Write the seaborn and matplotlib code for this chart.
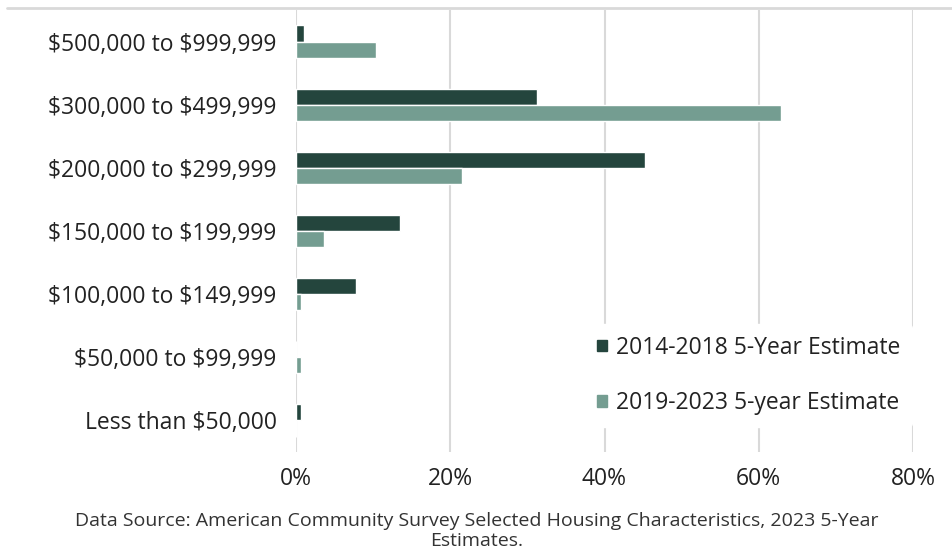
import matplotlib
matplotlib.use("Agg")
import matplotlib.pyplot as plt
from matplotlib.lines import Line2D
from matplotlib.ticker import FuncFormatter
import seaborn as sns
import pandas as pd

# values (percent of owner-occupied units)
categories = ["$500,000 to $999,999", "$300,000 to $499,999", "$200,000 to $299,999",
              "$150,000 to $199,999", "$100,000 to $149,999", "$50,000 to $99,999",
              "Less than $50,000"]
series_names = ["2014-2018 5-Year Estimate", "2019-2023 5-year Estimate"]
est_2018 = [1.1, 31.3, 45.3, 13.5, 7.8, 0.0, 0.7]
est_2023 = [10.4, 62.9, 21.5, 3.6, 0.65, 0.7, 0.0]
colors = ["#24453d", "#749d91"]

df = pd.DataFrame({
    "value": est_2018 + est_2023,
    "category": categories * 2,
    "series": [series_names[0]] * len(categories) + [series_names[1]] * len(categories),
})

sns.set_theme(style="white")
plt.rcParams["font.family"] = ["Open Sans", "DejaVu Sans"]
plt.rcParams["text.parse_math"] = False  # dollar signs are literal

fig = plt.figure(figsize=(9.53, 5.52), dpi=100)
ax = fig.add_axes([296 / 953, 1 - 452 / 552, 617 / 953, 442 / 552])

sns.barplot(data=df, x="value", y="category", hue="series", order=categories,
            hue_order=series_names, palette=colors, width=0.51, orient="h",
            saturation=1, ax=ax, zorder=2)

ax.set_xlim(0, 80)
ax.set_ylim(6.5, -0.5)
ax.set_xticks([0, 20, 40, 60, 80])
ax.xaxis.set_major_formatter(FuncFormatter(lambda v, p: f"{v:.0f}%"))
ax.grid(axis="x", color="#d9d9d9", linewidth=1.5, zorder=0)
ax.set_axisbelow(True)
for s in ax.spines.values():
    s.set_visible(False)
ax.set_xlabel("")
ax.set_ylabel("")
ax.tick_params(axis="both", length=0, labelsize=16.5, colors="#222222")
ax.tick_params(axis="x", pad=11)
ax.tick_params(axis="y", pad=14)

handles = [plt.Rectangle((0, 0), 1, 1, color=c) for c in colors]
leg = ax.legend(handles, series_names, loc="upper left", bbox_to_anchor=(0.47, 0.289),
                frameon=True, facecolor="white", edgecolor="white", framealpha=1,
                fontsize=16.5, handlelength=0.4, handleheight=0.4, handletextpad=0.4,
                labelspacing=1.38, borderaxespad=0, borderpad=0.5)
for t in leg.get_texts():
    t.set_color("#222222")

fig.add_artist(Line2D([0.007, 1], [1 - 8 / 552, 1 - 8 / 552], color="#d9d9d9", linewidth=2))

fig.text(0.5, 1 - 531 / 552,
         "Data Source: American Community Survey Selected Housing Characteristics, 2023 5-Year\nEstimates.",
         ha="center", va="center", fontsize=14, color="#333333", linespacing=1.08)

fig.savefig("out.png", dpi=100)
